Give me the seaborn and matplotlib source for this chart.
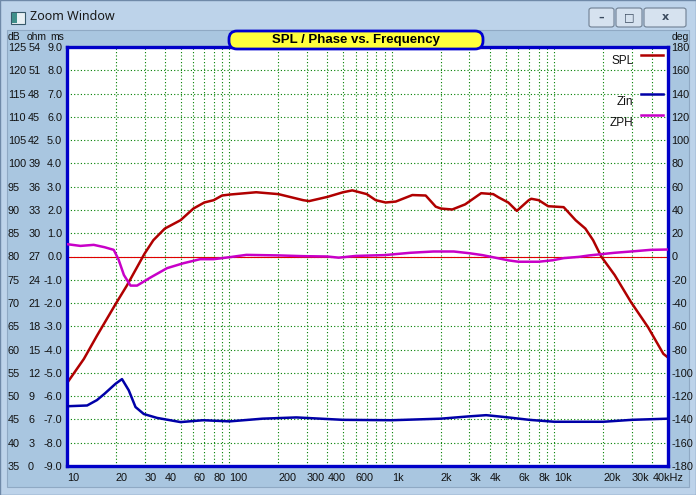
import numpy as np
import pandas as pd
import matplotlib
matplotlib.use('Agg')
import matplotlib.pyplot as plt
import seaborn as sns
from matplotlib.patches import Rectangle, FancyBboxPatch
from matplotlib.lines import Line2D
from matplotlib.ticker import FixedLocator, FixedFormatter, NullLocator

# SPL (dB)
spl_freq = [10, 12.7, 15.3, 20, 23.4, 30, 34, 40, 50, 60, 70, 80, 90, 100, 146, 200,
            284, 309, 400, 500, 570, 700, 794, 914, 1055, 1335, 1613, 1860, 2000, 2350,
            2822, 3540, 4200, 4530, 5200, 5870, 6950, 7200, 8000, 9150, 11400, 13500,
            15500, 17300, 19400, 23500, 29600, 37700, 46800, 50000]
spl_db = [52.8, 58, 63, 69.9, 73.8, 80.6, 83.5, 86, 87.8, 90.3, 91.6, 92.1, 93.1, 93.3, 93.8, 93.4,
          92.1, 91.9, 92.8, 93.8, 94.2, 93.4, 92.1, 91.6, 91.8, 93.2, 93.1, 90.7, 90.3, 90.1,
          91.2, 93.6, 93.4, 92.7, 91.6, 89.8, 92.1, 92.4, 92.1, 90.8, 90.6, 87.8,
          86, 83.5, 80, 76, 70.2, 64.8, 59.1, 58.3]

# impedance magnitude (ohm)
zin_freq = [10, 13.3, 15.3, 17, 19.9, 21.8, 24, 26.4, 29.7, 35.8, 50, 69, 100, 160, 258,
            500, 1000, 2000, 3000, 3800, 5000, 7000, 10000, 20000, 30000, 50000]
zin_ohm = [7.7, 7.8, 8.5, 9.3, 10.6, 11.2, 9.75, 7.6, 6.7, 6.2, 5.66, 5.9, 5.75, 6.1, 6.26,
           5.95, 5.9, 6.1, 6.4, 6.55, 6.3, 5.95, 5.7, 5.7, 5.95, 6.1]

# impedance phase (deg)
zph_freq = [10, 12.1, 14.6, 17, 19.4, 20.8, 22.4, 24.6, 27, 32.6, 41.3, 52, 66, 80, 100,
            127, 205, 284, 400, 470, 600, 900, 1300, 1800, 2400, 3000, 3600, 4500, 5200,
            6000, 8000, 9800, 11400, 14200, 16300, 19400, 23500, 29600, 39000, 50000]
zph_deg = [10.6, 9.1, 10, 8, 5.7, -2.9, -15.9, -25, -25, -18.1, -10, -5.8, -2.3, -2.3, -0.6,
           1.4, 0.9, 0.3, 0, -1, 0.5, 1.2, 3.2, 4.3, 4.3, 2.8, 1.2, -1.5, -3.3,
           -4.5, -4.5, -3.2, -1.4, -0.3, 0.9, 2.0, 3.2, 4.3, 5.7, 6.0]

grid_freqs = [m * d for d in (10, 100, 1000, 10000) for m in range(1, 10) if m * d <= 40000]
x_labels = {10: '10', 20: '20', 30: '30', 40: '40', 60: '60', 80: '80', 100: '100',
            200: '200', 300: '300', 400: '400', 600: '600', 1000: '1k', 2000: '2k',
            3000: '3k', 4000: '4k', 6000: '6k', 8000: '8k', 10000: '10k', 20000: '20k',
            30000: '30k', 40000: '40kHz'}
db_ticks = list(range(35, 130, 5))
ohm_ticks = list(range(0, 57, 3))
ms_ticks = [float(v) for v in range(-9, 10)]
deg_ticks = list(range(-180, 200, 20))

plt.rcParams['font.family'] = ['Liberation Sans', 'DejaVu Sans']
plt.rcParams['axes.unicode_minus'] = False

W, H = 696, 495
fig = plt.figure(figsize=(W / 100, H / 100), dpi=100, facecolor='#a9c6e0')

# window chrome
fig.patches.append(Rectangle((0, 0), 1, 1, transform=fig.transFigure, fc='#bdd3ea', ec='#6f89a8', lw=1, zorder=-10))
fig.patches.append(Rectangle((7 / W, 8 / H), 682 / W, (487 - 30) / H, transform=fig.transFigure,
                             fc='#a9c6e0', ec='#8fa9c4', lw=0.8, zorder=-9))
fig.patches.append(Rectangle((11 / W, 1 - 24 / H), 14 / W, 12 / H, transform=fig.transFigure,
                             fc='#e8f0f4', ec='#37596a', lw=0.8, zorder=2))
fig.patches.append(Rectangle((12 / W, 1 - 23 / H), 5 / W, 10 / H, transform=fig.transFigure,
                             fc='#3f8f8a', ec='none', zorder=3))
fig.text(30 / W, 1 - 17 / H, 'Zoom Window', fontsize=9, family='Noto Sans', va='center', ha='left', color='#1a1a1a')
for (x0, x1, glyph) in [(589, 614, '\u2013'), (616, 642, '\u25a1'), (644, 686, 'x')]:
    fig.patches.append(FancyBboxPatch((x0 / W, 1 - 27 / H), (x1 - x0) / W, 19 / H,
                                      boxstyle='round,pad=0,rounding_size=0.004',
                                      transform=fig.transFigure, fc='#d6e2ef', ec='#6f7f92', lw=0.8, zorder=2))
    fig.text((x0 + x1) / 2 / W, 1 - 17.5 / H, glyph, fontsize=8, ha='center', va='center',
             color='#3a4a5e', family='DejaVu Sans', fontweight='bold')

ax = fig.add_axes([67 / W, 1 - 466 / H, 601 / W, 419 / H])
ax.set_facecolor('white')
ax.set_xscale('log')
ax.set_xlim(10, 50000)
ax.set_ylim(35, 125)

ax_z = ax.twinx()
ax_ms = ax.twinx()
ax_deg = ax.twinx()
ax_z.set_ylim(0, 54)
ax_ms.set_ylim(-9, 9)
ax_deg.set_ylim(-180, 180)

grid_kw = dict(color='#008000', lw=0.8, ls=(0, (1, 2)))
ax.xaxis.set_major_locator(FixedLocator(grid_freqs))
ax.xaxis.set_major_formatter(FixedFormatter([x_labels.get(f, '') for f in grid_freqs]))
ax.xaxis.set_minor_locator(NullLocator())
ax.set_yticks(db_ticks)
ax.set_yticklabels([str(v) for v in db_ticks])
ax.grid(True, which='major', **grid_kw)
ax.set_axisbelow(True)
ax.axhline(80, color='#e00000', lw=0.8, zorder=1.5)

lab_kw = dict(labelsize=7.8, labelcolor='#111111', length=0)
ax.tick_params(axis='x', pad=5, **lab_kw)
for t in ax.get_xticklabels():
    t.set_ha('left')
ax.tick_params(axis='y', pad=42.5, **lab_kw)
for t in ax.get_yticklabels():
    t.set_ha('left')

ax_z.yaxis.set_ticks_position('left')
ax_z.set_yticks(ohm_ticks)
ax_z.set_yticklabels([str(v) for v in ohm_ticks])
ax_z.tick_params(axis='y', pad=28, **lab_kw)
for t in ax_z.get_yticklabels():
    t.set_ha('left')

ax_ms.yaxis.set_ticks_position('left')
ax_ms.set_yticks(ms_ticks)
ax_ms.set_yticklabels(['%.1f' % v for v in ms_ticks])
ax_ms.tick_params(axis='y', pad=3.5, **lab_kw)

ax_deg.set_yticks(deg_ticks)
ax_deg.set_yticklabels([str(v) for v in deg_ticks])
ax_deg.tick_params(axis='y', pad=2.5, **lab_kw)

for a in (ax_z, ax_ms, ax_deg):
    for s in a.spines.values():
        s.set_visible(False)
for s in ax.spines.values():
    s.set_color('#0000c8')
    s.set_linewidth(2.4)

spl = pd.DataFrame({'f': spl_freq, 'v': spl_db})
zin = pd.DataFrame({'f': zin_freq, 'v': zin_ohm})
zph = pd.DataFrame({'f': zph_freq, 'v': zph_deg})
sns.lineplot(data=spl, x='f', y='v', ax=ax, color='#b00000', lw=1.8, legend=False)
sns.lineplot(data=zin, x='f', y='v', ax=ax_z, color='#0000a8', lw=1.8, legend=False)
sns.lineplot(data=zph, x='f', y='v', ax=ax_deg, color='#c800c8', lw=1.8, legend=False)
for a in (ax, ax_z, ax_ms, ax_deg):
    a.set_xlabel('')
    a.set_ylabel('')
ax.set_xlim(10, 50000)

# legend: text left of a short line sample
for name, col, ty, ly in [('SPL', '#b00000', 0.967, 0.981), ('Zin', '#0000a8', 0.869, 0.888),
                          ('ZPH', '#c800c8', 0.819, 0.838)]:
    ax_deg.text(0.942, ty, name, transform=ax.transAxes, fontsize=8.5, ha='right', va='center', color='#111111')
    ax_deg.add_line(Line2D([0.955, 0.992], [ly, ly], transform=ax.transAxes, color=col, lw=1.8))

# unit headers
fig.text(8 / W, 1 - 37 / H, 'dB', fontsize=7.5, ha='left', va='center', color='#111111')
fig.text(27 / W, 1 - 37 / H, 'ohm', fontsize=7.5, ha='left', va='center', color='#111111')
fig.text(50 / W, 1 - 37 / H, 'ms', fontsize=7.5, ha='left', va='center', color='#111111')
fig.text(672 / W, 1 - 37 / H, 'deg', fontsize=7.5, ha='left', va='center', color='#111111')

# title box
fig.patches.append(FancyBboxPatch((229 / W, 1 - 49 / H), 254 / W, 18 / H,
                                  boxstyle='round,pad=0,rounding_size=%f' % (8 / W),
                                  mutation_aspect=W / H, transform=fig.transFigure,
                                  fc='#ffff3c', ec='#0000d0', lw=2, zorder=5))
fig.text(356 / W, 1 - 40 / H, 'SPL / Phase vs. Frequency', fontsize=9.5, fontweight='bold',
         ha='center', va='center', color='#000000', zorder=6)

fig.savefig('out.png', dpi=100, facecolor=fig.get_facecolor())
